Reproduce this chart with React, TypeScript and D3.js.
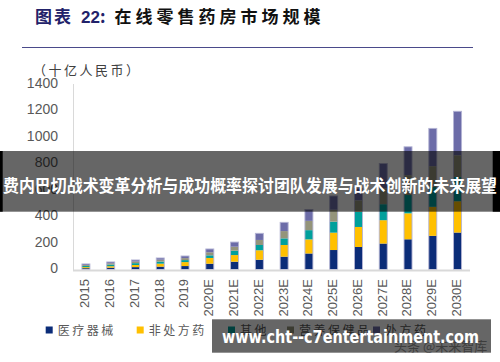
import React from "react";
import * as d3 from "d3";

const years = ["2015", "2016", "2017", "2018", "2019", "2020E", "2021E", "2022E", "2023E", "2024E", "2025E", "2026E", "2027E", "2028E", "2029E", "2030E"];
const device = [10, 14, 18, 22, 26, 44, 59, 74, 97, 121, 147, 170, 196, 228, 254, 279];
const otc = [8, 11, 16, 22, 30, 43, 50, 71, 88, 106, 131, 151, 176, 196, 219, 236];
const other = [9, 12, 14, 16, 15, 20, 33, 40, 50, 70, 83, 113, 121, 138, 151, 183];
const nutrition = [7, 10, 12, 14, 15, 23, 30, 38, 55, 70, 90, 88, 118, 150, 156, 164];
const rx = [8, 10, 12, 13, 16, 25, 35, 50, 66, 86, 104, 90, 189, 214, 285, 332];

const seriesNames = ["医疗器械", "非处方药", "其他", "营养保健品", "处方药"];
const colors = ["#0B2C78", "#FFC000", "#00A09C", "#94947A", "#6C6CA8"];
const yTicks = [0, 200, 400, 600, 800, 1000, 1200, 1400];
const legendX = [45.7, 136.7, 228, 287, 373];

const W = 500;
const H = 362;

const App = () => {
  const keys = ["device", "otc", "other", "nutrition", "rx"];
  const rows = years.map((y, i) => ({
    year: y,
    device: device[i],
    otc: otc[i],
    other: other[i],
    nutrition: nutrition[i],
    rx: rx[i],
  }));
  const stacked = d3.stack<any>().keys(keys)(rows);

  const x = d3
    .scaleBand()
    .domain(years)
    .range([73.5, 470])
    .paddingInner(0.677)
    .paddingOuter(0.34);
  const y = d3.scaleLinear().domain([0, 1400]).range([269.5, 84]);

  const numFont = "'Liberation Sans', Arial, sans-serif";
  const cjk = "'Noto Sans CJK SC', sans-serif";

  return (
    <svg width={W} height={H} style={{ position: "absolute", left: 0, top: 0, background: "#fff" }}>
      {/* title */}
      <text x={35} y={23} fontFamily={cjk} fontWeight="bold" fontSize={17}>
        <tspan fill="#22226A" letterSpacing={2}>图表</tspan>
        <tspan fill="#22226A" fontFamily={numFont} dx={8}>22</tspan>
        <tspan fill="#22226A">:</tspan>
        <tspan fill="#111" dx={9} letterSpacing={4}>在线零售药房市场规模</tspan>
      </text>
      <line x1={22} x2={473} y1={47.5} y2={47.5} stroke="#4A4A8A" strokeWidth={1.2} />
      <text x={33} y={75} fontFamily={cjk} fontSize={13} fill="#404040" letterSpacing={2.5}>
        （十亿人民币）
      </text>

      {/* axes */}
      <line x1={73.5} x2={73.5} y1={84} y2={270} stroke="#D9D9D9" strokeWidth={1} />
      {yTicks.map((t) => (
        <text
          key={t}
          x={58}
          y={y(t)}
          textAnchor="end"
          dominantBaseline="middle"
          fontFamily={numFont}
          fontSize={14}
          fill="#595959"
        >
          {t}
        </text>
      ))}

      {/* bars */}
      {stacked.map((s, si) => (
        <g key={s.key} fill={colors[si]}>
          {s.map((d, i) => (
            <rect
              key={i}
              x={x(years[i])}
              y={y(d[1])}
              width={x.bandwidth()}
              height={y(d[0]) - y(d[1])}
            />
          ))}
        </g>
      ))}
      {years.map((yr, i) => {
        const top = stacked[stacked.length - 1][i][1];
        return (
          <rect
            key={yr}
            x={x(yr)}
            y={y(top)}
            width={x.bandwidth()}
            height={y(0) - y(top)}
            fill="none"
            stroke="#B4B4D4"
            strokeWidth={0.9}
          />
        );
      })}
      <line x1={73} x2={470} y1={270.5} y2={270.5} stroke="#D9D9D9" strokeWidth={2} />

      {years.map((yr) => (
        <text
          key={yr}
          transform={`translate(${x(yr)! + x.bandwidth() / 2},279) rotate(-90)`}
          textAnchor="end"
          dominantBaseline="middle"
          fontFamily={numFont}
          fontSize={13}
          fill="#595959"
        >
          {yr}
        </text>
      ))}

      {/* legend */}
      {seriesNames.map((n, i) => (
        <g key={n}>
          <rect x={legendX[i]} y={326.5} width={7} height={7} fill={colors[i]} />
          <text x={legendX[i] + 12} y={335} fontFamily={cjk} fontSize={12} letterSpacing={2.5} fill="#595959">
            {n}
          </text>
        </g>
      ))}
      <text x={394} y={351} fontFamily={cjk} fontSize={13} fill="#999">
        头条 @未来智库
      </text>

      {/* overlays */}
      <rect x={0} y={151} width={500} height={60.7} fill="#000" fillOpacity={0.6} />
      <rect x={0} y={151} width={2.7} height={60.7} fill="#000" />
      <rect x={492.7} y={151} width={7.3} height={60.7} fill="#000" />
      <text
        x={3}
        y={192}
        fontFamily={cjk}
        fontWeight="bold"
        fontSize={17}
        fill="#fff"
        textLength={494}
        lengthAdjust="spacingAndGlyphs"
      >
        费内巴切战术变革分析与成功概率探讨团队发展与战术创新的未来展望
      </text>
      <rect x={212} y={319.3} width={279} height={33.4} fill="#000" fillOpacity={0.6} />
      <text
        x={222}
        y={342.5}
        fontFamily="'DejaVu Sans', sans-serif"
        fontWeight="bold"
        fontSize={17}
        fill="#fff"
        textLength={257}
        lengthAdjust="spacingAndGlyphs"
      >
        www.cht--c7entertainment.com
      </text>
    </svg>
  );
};

export default App;
